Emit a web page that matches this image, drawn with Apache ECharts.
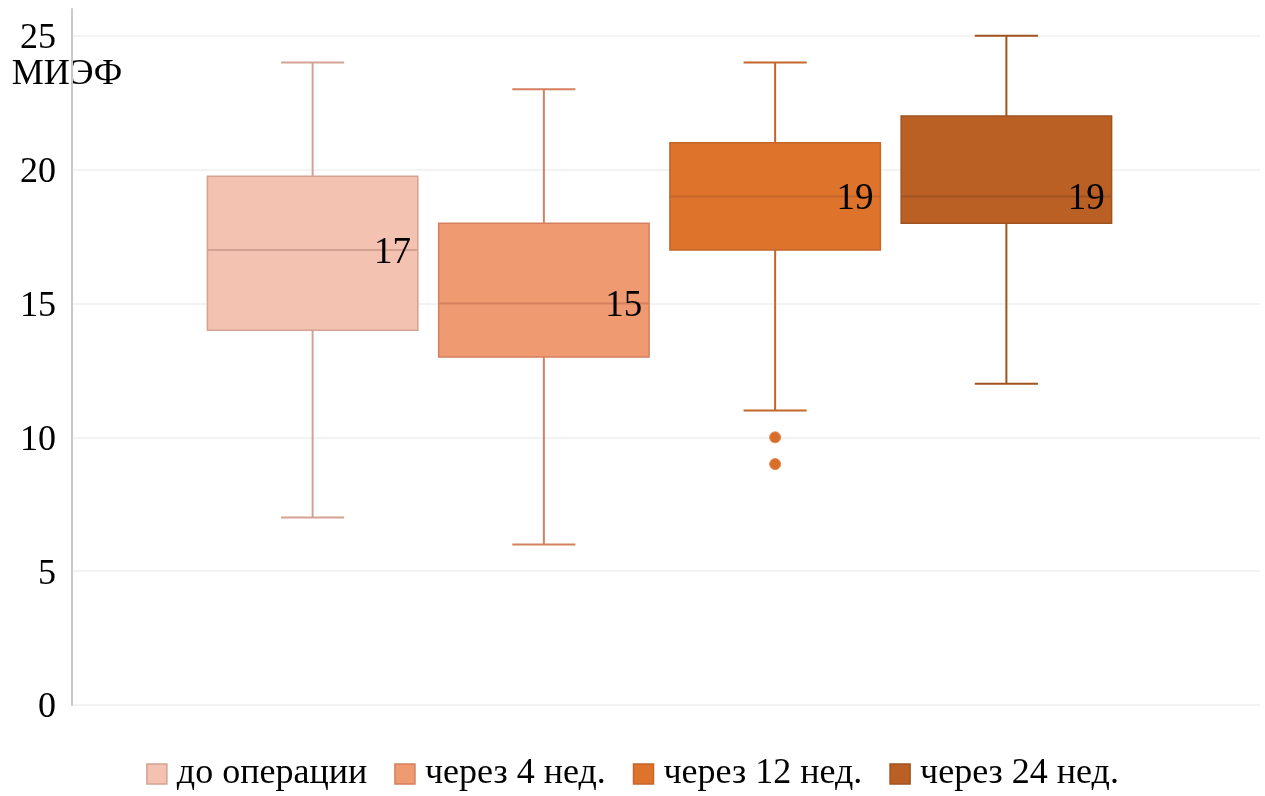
<!DOCTYPE html>
<html>
<head>
<meta charset="utf-8">
<style>
  html, body { margin: 0; padding: 0; background: #fff; }
  #chart { width: 1265px; height: 796px; }
</style>
<script src="https://cdn.jsdelivr.net/npm/echarts@6/dist/echarts.min.js"></script>
</head>
<body>
<div id="chart"></div>
<script>
// Groups and box-plot statistics (МИЭФ score)
const categories = ['до операции', 'через 4 нед.', 'через 12 нед.', 'через 24 нед.'];
const mins    = [7, 6, 11, 12];
const q1s     = [14, 13, 17, 18];
const medians = [17, 15, 19, 19];
const q3s     = [19.75, 18, 21, 22];
const maxs    = [24, 23, 24, 25];
const outliers = [[], [], [10, 9], []];
const yTicks = [0, 5, 10, 15, 20, 25];

const fills   = ['#F4C2B0', '#EF9A71', '#DE732C', '#BB6024'];
const strokes = ['#D3A292', '#D4805F', '#C4662B', '#A0531F'];
const FONT = '"Liberation Serif", "Times New Roman", serif';

function renderBox(params, api) {
  const x = api.value(0);
  const idx = params.seriesIndex;
  const band = api.size([1, 0])[0];
  const w = band * 0.91;
  const cap = w * 0.3;
  const cx = api.coord([x, 0])[0];
  const yMin = api.coord([x, api.value(1)])[1];
  const yQ1  = api.coord([x, api.value(2)])[1];
  const yMed = api.coord([x, api.value(3)])[1];
  const yQ3  = api.coord([x, api.value(4)])[1];
  const yMax = api.coord([x, api.value(5)])[1];
  const stroke = strokes[idx];
  const lineStyle = { stroke: stroke, lineWidth: 2 };
  return {
    type: 'group',
    children: [
      { type: 'line', shape: { x1: cx, y1: yQ3, x2: cx, y2: yMax }, style: lineStyle },
      { type: 'line', shape: { x1: cx, y1: yQ1, x2: cx, y2: yMin }, style: lineStyle },
      { type: 'line', shape: { x1: cx - cap / 2, y1: yMax, x2: cx + cap / 2, y2: yMax }, style: lineStyle },
      { type: 'line', shape: { x1: cx - cap / 2, y1: yMin, x2: cx + cap / 2, y2: yMin }, style: lineStyle },
      { type: 'rect', shape: { x: cx - w / 2, y: yQ3, width: w, height: yQ1 - yQ3 },
        style: { fill: fills[idx], stroke: stroke, lineWidth: 1.5 } },
      { type: 'line', shape: { x1: cx - w / 2, y1: yMed, x2: cx + w / 2, y2: yMed }, style: lineStyle },
      { type: 'text', x: cx + w * 0.38, y: yMed + 3,
        style: { text: String(api.value(3)), fill: '#000', font: '37px ' + FONT,
                 textAlign: 'center', textVerticalAlign: 'middle' } }
    ]
  };
}

const boxSeries = categories.map((name, i) => ({
  name: name,
  type: 'custom',
  xAxisIndex: 1,
  yAxisIndex: 1,
  renderItem: renderBox,
  itemStyle: { color: fills[i], borderColor: strokes[i], borderWidth: 1.5 },
  encode: { x: 0, y: [1, 2, 3, 4, 5] },
  data: [[i, mins[i], q1s[i], medians[i], q3s[i], maxs[i]]],
  silent: true
}));

const outlierData = [];
outliers.forEach((vals, i) => vals.forEach(v => outlierData.push([i, v])));

const outlierSeries = {
  name: categories[2],
  type: 'scatter',
  xAxisIndex: 1,
  yAxisIndex: 1,
  symbol: 'circle',
  symbolSize: 11,
  itemStyle: { color: '#D96E28', borderColor: '#E48A50', borderWidth: 1, opacity: 1 },
  data: outlierData,
  silent: true
};

const chart = echarts.init(document.getElementById('chart'), null, { renderer: 'canvas' });
chart.setOption({
  animation: false,
  backgroundColor: '#fff',
  grid: [
    { left: 72, right: 5, top: 9, bottom: 91 },
    { left: 197, right: 143, top: 9, bottom: 91 }
  ],
  xAxis: [
    { gridIndex: 0, type: 'value', show: false, min: 0, max: 1 },
    { gridIndex: 1, type: 'category', show: false, data: categories }
  ],
  yAxis: [
    {
      gridIndex: 0, type: 'value', min: 0, max: 26, interval: 5,
      name: 'МИЭФ', nameLocation: 'end', nameGap: -84,
      nameTextStyle: { fontFamily: FONT, fontSize: 36, color: '#000', align: 'center', padding: [0, 10, 0, 0] },
      axisLine: { show: true, lineStyle: { color: '#C8C8C8', width: 2 } },
      axisTick: { show: false },
      axisLabel: {
        fontFamily: FONT, fontSize: 36, color: '#000', margin: 16,
        verticalAlign: 'top', lineHeight: 6,
        showMaxLabel: false,
        formatter: v => (yTicks.indexOf(v) >= 0 ? String(v) : '')
      },
      splitLine: { show: true, showMaxLine: false, lineStyle: { color: '#EFEFEF', width: 1.5 } }
    },
    { gridIndex: 1, type: 'value', min: 0, max: 26, show: false, splitLine: { show: false } }
  ],
  legend: {
    data: categories,
    left: 'center',
    top: 751,
    icon: 'rect',
    itemWidth: 20,
    itemHeight: 20,
    itemGap: 27,
    itemStyle: { borderWidth: 1.5 },
    textStyle: { fontFamily: FONT, fontSize: 36, color: '#000', padding: [0, 0, 0, 5] },
    selectedMode: false
  },
  series: boxSeries.concat([outlierSeries])
});
</script>
</body>
</html>
